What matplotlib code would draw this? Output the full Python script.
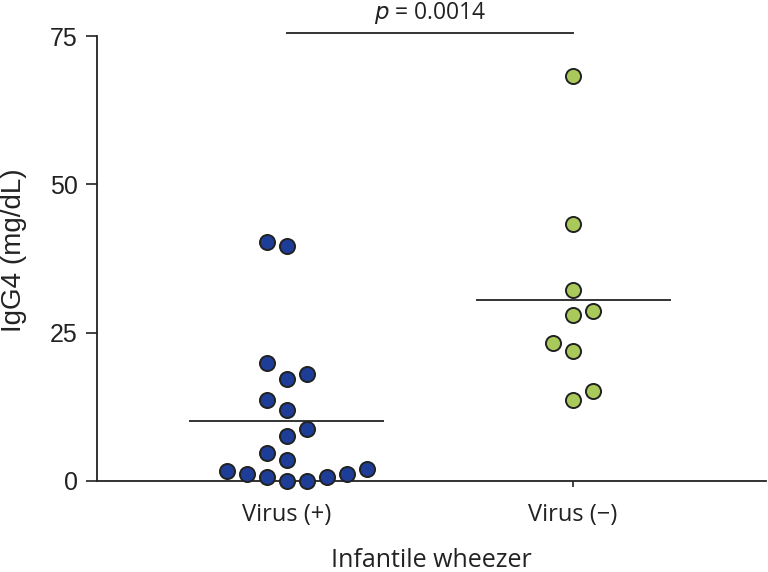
import matplotlib
matplotlib.use("Agg")
import matplotlib.pyplot as plt
import numpy as np

categories = ["Virus (+)", "Virus (\u2212)"]
virus_pos_values = [40.3, 39.6, 19.9, 17.2, 18.1, 13.6, 12.0, 8.8, 7.6, 4.8, 3.6,
                    1.7, 1.1, 0.6, 0.0, 0.0, 0.6, 1.1, 2.0]
virus_pos_slots = [-1, 0, -1, 0, 1, -1, 0, 1, 0, -1, 0,
                   -3, -2, -1, 0, 1, 2, 3, 4]
virus_neg_values = [68.3, 43.3, 32.2, 27.9, 28.6, 23.2, 21.9, 15.1, 13.7]
virus_neg_slots = [0, 0, 0, 0, 1, -1, 0, 1, 0]
yticks = [0, 25, 50, 75]
p_text = "= 0.0014"

W, H = 768, 572
fig = plt.figure(figsize=(W / 100, H / 100), dpi=100)
ax = fig.add_axes([97 / W, 91 / H, (766 - 97) / W, 445 / H])

slot_w = 0.07
colors = ["#1d3d96", "#a9c95b"]
groups = [(virus_pos_values, virus_pos_slots), (virus_neg_values, virus_neg_slots)]
for i, (vals, slots) in enumerate(groups):
    xs = i + np.array(slots) * slot_w
    ax.scatter(xs, vals, s=118, color=colors[i], edgecolor="#222222",
               linewidth=1.4, zorder=3, clip_on=False)
    m = np.mean(vals)
    ax.plot([i - 0.337, i + 0.337], [m, m], color="#333333", lw=1.4, zorder=2)

# significance bar
ax.plot([0, 1], [75.5, 75.5], color="#333333", lw=1.4, clip_on=False)
ax.text(0.5, 78.9, "$p$ " + p_text, ha="center", va="center", fontsize=16.5,
        family="Open Sans", color="#222222")

ax.set_xlim(-0.6626, 1.674)
ax.set_ylim(0, 75)
ax.set_yticks(yticks)
ax.set_yticklabels([str(t) for t in yticks], fontsize=18, family="Liberation Sans")
ax.set_xticks([0, 1])
ax.set_xticklabels(categories, fontsize=17, family="Open Sans")
ax.tick_params(axis="y", length=8, width=1.2, pad=6, colors="#222222")
ax.tick_params(axis="x", length=4, width=1.2, pad=12, colors="#222222")
ax.set_ylabel("IgG4 (mg/dL)", fontsize=20, family="Liberation Sans",
              color="#222222")
ax.yaxis.set_label_coords(-0.105, 0.519)
ax.set_xlabel("Infantile wheezer", fontsize=18, family="Open Sans", labelpad=15,
              color="#222222")

for s in ["top", "right"]:
    ax.spines[s].set_visible(False)
for s in ["left", "bottom"]:
    ax.spines[s].set_linewidth(1.3)
    ax.spines[s].set_color("#222222")

fig.savefig("out.png", dpi=100)
